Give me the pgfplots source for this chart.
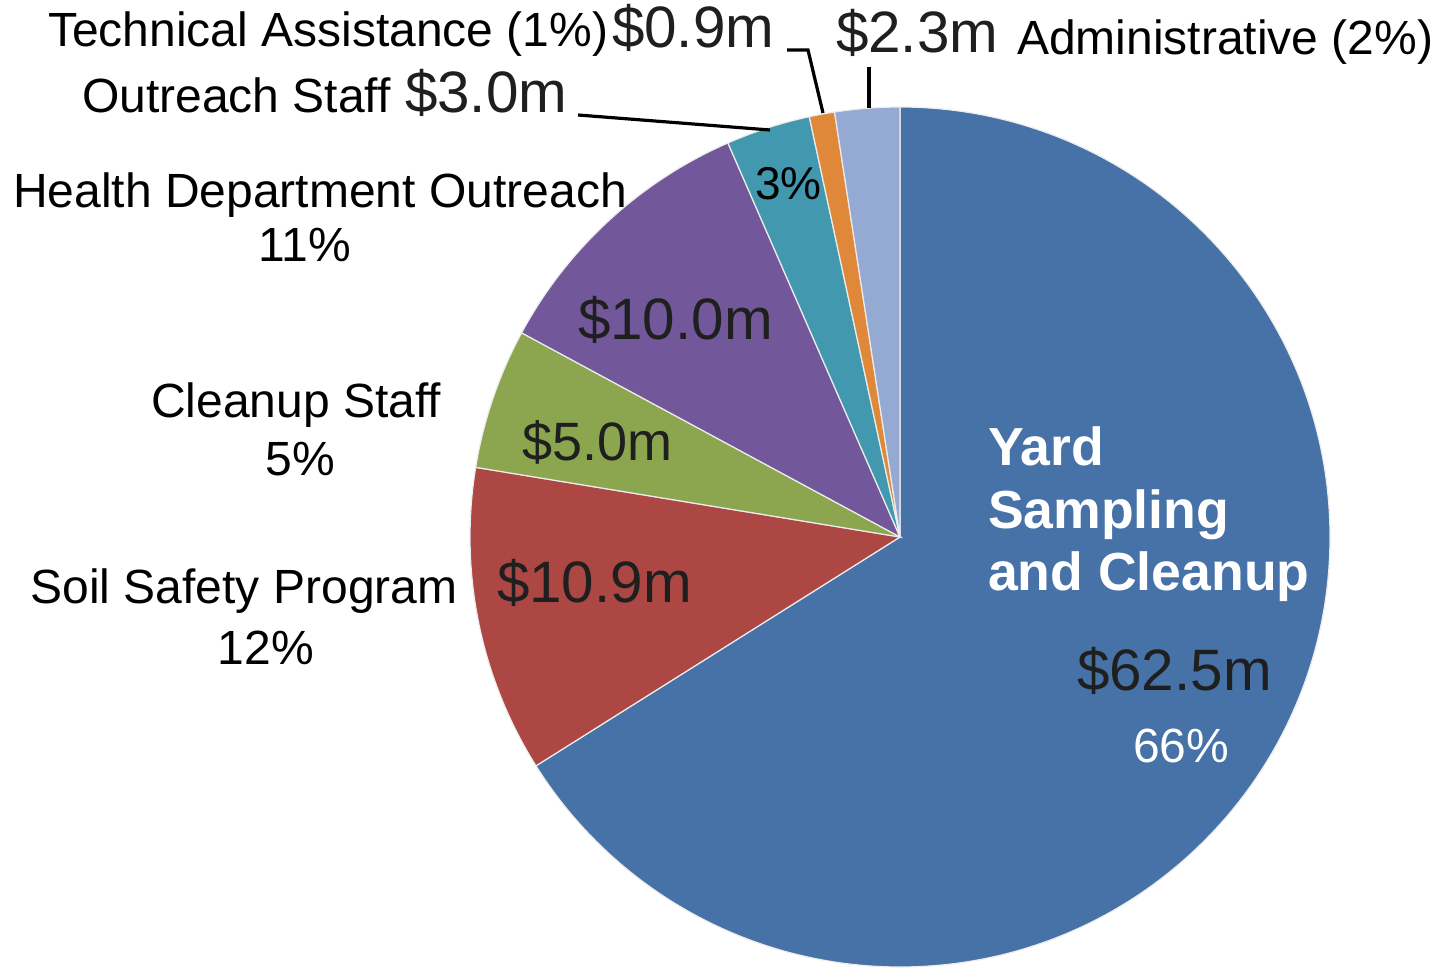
\documentclass[border=0pt]{standalone}
\usepackage{pgfplots}
\pgfplotsset{compat=1.18}
\usepackage{pgfplotstable}
\usepackage{fontspec}
\setmainfont{Liberation Sans}

\definecolor{slice0}{HTML}{4672A8}
\definecolor{slice1}{HTML}{AC4743}
\definecolor{slice2}{HTML}{8BA64F}
\definecolor{slice3}{HTML}{72589A}
\definecolor{slice4}{HTML}{4198AF}
\definecolor{slice5}{HTML}{E0883A}
\definecolor{slice6}{HTML}{94AAD3}

% budget in $ million, clockwise from 12 o'clock
\pgfplotstableread{
item value
Yard 62.5
Soil 10.9
Cleanup 5.0
Health 10.0
Outreach 3.0
Technical 0.9
Admin 2.3
}\budget

\newcommand\lab{\fontsize{24}{28}\selectfont}
\newcommand\dol{\fontsize{29.2}{32}\selectfont}
\tikzset{every node/.append style={inner sep=0pt, outer sep=0pt}}

\begin{document}
\begin{tikzpicture}
% total and slice angles
\def\total{0}
\pgfplotsforeachungrouped \i in {0,...,6}{%
  \pgfplotstablegetelem{\i}{value}\of\budget
  \pgfmathsetmacro\total{\total+\pgfplotsretval}%
}
\def\ang{90}
\pgfplotsforeachungrouped \i in {0,...,6}{%
  \pgfplotstablegetelem{\i}{value}\of\budget
  \pgfmathsetmacro\angnext{\ang-\pgfplotsretval/\total*360}%
  \expandafter\xdef\csname sa\i\endcsname{\ang}%
  \expandafter\xdef\csname ea\i\endcsname{\angnext}%
  \let\ang\angnext
}
\begin{axis}[x=0.5pt, y=0.5pt, xmin=0, xmax=1435, ymin=0, ymax=971,
  hide axis, clip=false]
\pgfplotsinvokeforeach{0,...,6}{%
  \edef\slice{\noexpand\fill[fill=slice#1, draw=white!85!gray, line width=0.6pt]
    (axis cs:900,434) -- ++(\csname sa#1\endcsname:215pt)
    arc[start angle=\csname sa#1\endcsname, end angle=\csname ea#1\endcsname, radius=215pt] -- cycle;}%
  \slice
}
% leader lines
\draw[line width=1.6pt] (axis cs:578,856) -- (axis cs:770,841);
\draw[line width=1.6pt] (axis cs:787,921) -- (axis cs:808,921) -- (axis cs:823,858);
\draw[line width=1.6pt] (axis cs:869,904) -- (axis cs:869,863);
% outside labels
\node[anchor=base west] at (axis cs:48,924) {\lab Technical Assistance (1\%)};
\node[anchor=base west, text=black!88] at (axis cs:612,923) {\dol \$0.9m};
\node[anchor=base west, text=black!88] at (axis cs:836,918) {\dol \$2.3m};
\node[anchor=base west] at (axis cs:1017,916) {\lab Administrative (2\%)};
\node[anchor=base west] at (axis cs:82,858) {\lab Outreach Staff};
\node[anchor=base west, text=black!88] at (axis cs:405,858) {\dol \$3.0m};
\node[anchor=base] at (axis cs:320,763) {\lab Health Department Outreach};
\node[anchor=base] at (axis cs:305,709) {\lab 11\%};
\node[anchor=base] at (axis cs:296,553) {\lab Cleanup Staff};
\node[anchor=base] at (axis cs:300,496) {\lab 5\%};
\node[anchor=base] at (axis cs:244,368) {\lab Soil Safety Program};
\node[anchor=base] at (axis cs:266,307) {\lab 12\%};
% inside labels
\node[anchor=base west, text=black!88] at (axis cs:578,631) {\dol \$10.0m};
\node[anchor=base west, text=black!88] at (axis cs:522,511) {\fontsize{27}{30}\selectfont \$5.0m};
\node[anchor=base west, text=black!88] at (axis cs:497,369) {\dol \$10.9m};
\node[anchor=base west] at (axis cs:755,771) {\fontsize{23}{26}\selectfont 3\%};
\node[anchor=base west, text=white, font=\bfseries] at (axis cs:988,506) {\fontsize{26.8}{30}\selectfont Yard};
\node[anchor=base west, text=white, font=\bfseries] at (axis cs:988,443) {\fontsize{26.8}{30}\selectfont Sampling};
\node[anchor=base west, text=white, font=\bfseries] at (axis cs:988,381) {\fontsize{26.8}{30}\selectfont and Cleanup};
\node[anchor=base west, text=black!88] at (axis cs:1077,281) {\dol \$62.5m};
\node[anchor=base west, text=white] at (axis cs:1133,209) {\fontsize{24}{27}\selectfont 66\%};
\end{axis}
\pgfresetboundingbox
\path[use as bounding box] (current axis.south west) rectangle (current axis.north east);
\end{tikzpicture}
\end{document}
